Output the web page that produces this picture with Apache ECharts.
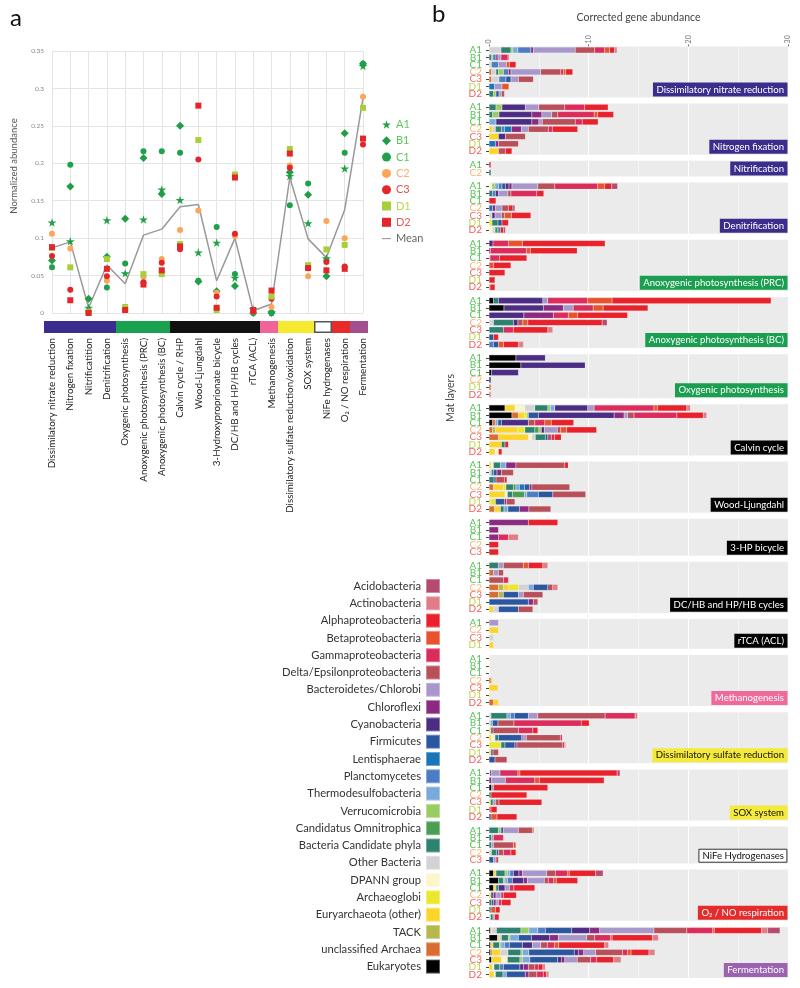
<!DOCTYPE html>
<html><head><meta charset="utf-8">
<script src="https://cdn.jsdelivr.net/npm/echarts@6/dist/echarts.min.js"></script>
<style>html,body{margin:0;padding:0;background:#fff}#c{width:800px;height:988px}</style>
</head><body><div id="c"></div><script>
// ---------- Panel a data ----------
const categories = ['Dissimilatory nitrate reduction','Nitrogen fixation','Nitrificatition','Denitrification','Oxygenic photosynthesis','Anoxygenic photosynthesis (PRC)','Anoxygenic photosynthesis (BC)','Calvin cycle / RHP','Wood-Ljungdahl','3-Hydroxyproprionate bicycle','DC/HB and HP/HB cycles','rTCA (ACL)','Methanogenesis','Dissimilatory sulfate reduction/oxidation','SOX system','NiFe hydrogenases','O\u2082 / NO respiration','Fermentation'];
const sampleA1 = [0.121,0.096,0.007,0.124,0.053,0.125,0.165,0.151,0.081,0.094,0.047,0.005,0.001,0.183,0.120,0.073,0.193,0.330];
const sampleB1 = [0.070,0.169,0.019,0.075,0.126,0.207,0.159,0.250,0.042,0.029,0.036,0.000,0.000,0.188,0.158,0.049,0.240,0.333];
const sampleC1 = [0.061,0.198,0.003,0.034,0.066,0.216,0.216,0.214,0.043,0.115,0.052,0.000,0.001,0.144,0.173,0.070,0.214,0.333];
const sampleC2 = [0.106,0.086,0.002,0.043,0.004,0.048,0.072,0.111,0.137,0.027,0.103,0.002,0.008,0.197,0.049,0.123,0.100,0.289];
const sampleC3 = [0.076,0.031,0.001,0.049,null,0.041,0.067,0.085,0.205,0.022,0.106,0.002,0.019,0.194,0.060,0.068,0.062,0.225];
const sampleD1 = [0.087,0.061,0.001,0.072,0.008,0.052,0.052,0.092,0.231,0.004,0.185,0.004,0.022,0.219,0.064,0.085,0.091,0.274];
const sampleD2 = [0.088,0.017,0.000,0.059,0.004,0.038,0.057,0.089,0.277,0.007,0.181,0.004,0.030,0.213,0.060,0.057,0.059,0.233];
const meanValues = [0.087,0.095,0.007,0.064,0.039,0.104,0.112,0.142,0.145,0.043,0.100,0.003,0.012,0.181,0.099,0.074,0.138,0.287];
const bandColors = ['#3a2d8f','#3a2d8f','#3a2d8f','#3a2d8f','#1aa150','#1aa150','#1aa150','#111111','#111111','#111111','#111111','#111111','#f0649a','#f5ea30','#f5ea30','#ffffff','#e82a2a','#a34f8f'];

// ---------- Panel b data ----------
const taxa = ['Acidobacteria','Actinobacteria','Alphaproteobacteria','Betaproteobacteria','Gammaproteobacteria','Delta/Epsilonproteobacteria','Bacteroidetes/Chlorobi','Chloroflexi','Cyanobacteria','Firmicutes','Lentisphaerae','Planctomycetes','Spirochaeta','Thermodesulfobacteria','Verrucomicrobia','Candidatus Omnitrophica','Bacteria Candidate phyla','Other Bacteria','DPANN group','Archaeoglobi','Euryarchaeota (other)','TACK','unclassified Archaea','Eukaryotes'];
const taxaColors = ['#b64b72','#e07d86','#e8212a','#e8532d','#dc2c5c','#b84f59','#a897cb','#8b2a80','#4c2d85','#2b56a0','#1875b8','#4b7cc4','#7090c9','#7aa9dc','#99cc62','#4a9e52','#2e806f','#d3d3d6','#faf6c9','#ebe72a','#fcd42a','#b7b84b','#d96d31','#000000'];

// rows: [layer, [[taxonIndex, abundance], ...]]
const fNitrateRed = [
 ['A1',[[17,1.2],[16,1.0],[14,0.2],[13,0.5],[11,1.3],[7,0.25],[6,4.2],[5,1.95],[4,1.0],[3,0.5],[2,0.5],[1,0.25]]],
 ['B1',[[16,0.25],[14,0.15],[11,0.3],[7,0.2],[6,0.3],[4,0.7],[2,0.1]]],
 ['C1',[[17,0.25],[11,0.7],[6,0.8],[3,0.3],[2,0.65]]],
 ['C2',[[22,0.25],[17,0.45],[16,0.25],[14,0.5],[11,0.5],[7,0.25],[6,3.0],[5,2.0],[4,0.25],[3,0.25],[2,0.7]]],
 ['C3',[[22,0.25],[17,0.75],[11,0.7],[9,0.5],[6,0.75],[5,1.5]]],
 ['D1',[[10,0.55],[6,0.75],[3,0.7]]],
 ['D2',[[16,0.45],[14,0.25],[9,0.3],[6,0.25],[5,0.3]]]];
const fNitrogenFix = [
 ['A1',[[16,0.7],[14,0.6],[8,2.35],[6,1.35],[5,2.6],[4,2.0],[2,2.35]]],
 ['B1',[[16,0.35],[14,0.65],[8,3.3],[7,1.0],[6,1.0],[5,0.6],[4,3.65],[3,0.35],[2,1.6]]],
 ['C1',[[13,0.7],[8,3.6],[7,0.7],[6,0.35],[5,3.3],[4,0.7],[2,1.6]]],
 ['C2',[[20,0.35],[17,0.3],[16,0.6],[11,0.3],[10,0.7],[7,1.0],[6,0.7],[5,2.0],[4,0.4],[2,2.55]]],
 ['C3',[[20,0.95],[8,0.7],[5,2.0]]],
 ['D1',[[10,0.65],[7,0.3],[5,2.0]]],
 ['D2',[[20,0.95],[5,0.7],[2,0.65]]]];
const fNitrification = [
 ['A1',[[4,0.2]]],
 ['C2',[[16,0.2]]]];
const fDenitrification = [
 ['A1',[[18,0.3],[14,0.3],[13,0.35],[11,0.35],[9,0.35],[8,0.35],[7,0.3],[6,2.6],[5,1.7],[4,4.3],[3,0.7],[2,0.7],[0,0.6]]],
 ['B1',[[16,0.35],[11,0.3],[8,0.3],[6,0.95],[5,0.3],[4,2.6],[2,0.7]]],
 ['C1',[[2,0.7]]],
 ['C2',[[10,0.35],[7,0.3],[6,0.65],[5,0.65],[2,0.45],[0,0.2]]],
 ['C3',[[17,0.3],[8,0.3],[6,0.65],[5,0.3],[3,0.7],[2,1.95]]],
 ['D1',[[19,0.3],[16,0.6],[9,0.4],[2,0.65]]],
 ['D2',[[18,0.35],[17,0.25],[15,0.3],[11,0.25],[2,0.3],[0,0.2]]]];
const fAnoxPRC = [
 ['A1',[[8,0.4],[4,1.55],[3,1.4],[2,8.3]]],
 ['B1',[[7,0.15],[4,3.6],[3,0.4],[2,4.7]]],
 ['C1',[[6,0.1],[4,0.95],[2,2.75]]],
 ['C2',[[3,0.45],[2,1.75]]],
 ['C3',[[2,1.6]]],
 ['D1',[[2,0.6]]],
 ['D2',[[3,0.1],[2,0.5]]]];
const fAnoxBC = [
 ['A1',[[23,0.45],[16,0.5],[8,4.45],[6,0.5],[4,4.0],[3,2.45],[2,15.95]]],
 ['B1',[[23,1.5],[8,3.95],[7,2.0],[6,1.0],[4,2.0],[3,1.0],[2,4.5]]],
 ['C1',[[8,3.5],[7,2.95],[4,1.5],[3,0.95],[2,5.0]]],
 ['C2',[[17,0.45],[16,2.0],[8,0.45],[5,0.5],[3,0.5],[2,7.45],[0,0.5]]],
 ['C3',[[16,1.45],[4,1.0],[2,3.45],[1,0.5]]],
 ['D1',[[9,0.45],[2,0.5]]],
 ['D2',[[11,0.45],[9,0.5],[3,0.5],[2,1.5],[1,0.5]]]];
const fOxygenic = [
 ['A1',[[23,2.7],[8,2.95]]],
 ['B1',[[23,3.2],[8,6.45]]],
 ['C1',[[23,0.25],[8,2.7]]],
 ['C2',[[8,0.2]]],
 ['D1',[[22,0.2]]],
 ['D2',[[1,0.2]]]];
const fCalvin = [
 ['A1',[[23,1.6],[20,1.0],[18,1.0],[17,1.0],[16,1.3],[14,0.25],[13,0.45],[8,3.3],[6,0.65],[4,6.0],[3,0.35],[2,2.95],[1,0.35]]],
 ['B1',[[23,2.3],[22,0.65],[20,0.6],[19,0.25],[14,0.15],[9,1.0],[8,7.6],[7,1.0],[6,0.35],[5,0.65],[4,4.3],[2,2.65],[1,0.35]]],
 ['C1',[[23,0.35],[22,0.3],[13,0.25],[9,0.35],[8,2.7],[5,0.65],[4,1.0],[3,0.65],[2,2.25]]],
 ['C2',[[22,0.35],[21,0.3],[20,2.25],[19,0.7],[16,1.0],[15,0.4],[14,0.25],[8,0.3],[6,1.3],[5,0.35],[3,0.6],[2,3.0]]],
 ['C3',[[22,0.95],[20,3.0],[18,0.35],[17,0.35],[16,1.0],[9,0.25],[5,0.35],[4,0.35],[2,0.65]]],
 ['D1',[[20,1.25],[16,0.35],[2,0.35]]],
 ['D2',[[20,0.6],[18,0.35],[2,0.35]]]];
const fWoodLj = [
 ['A1',[[20,0.2],[18,0.25],[16,0.7],[13,0.55],[7,1.0],[5,4.9],[2,0.35]]],
 ['B1',[[17,0.25],[16,0.2],[9,0.35],[7,0.45],[5,1.2]]],
 ['C1',[[16,0.5],[9,0.2],[5,0.85],[2,0.25]]],
 ['C2',[[22,0.45],[20,1.0],[19,0.25],[16,0.75],[15,0.25],[13,0.35],[10,0.5],[9,0.5],[7,0.25],[5,3.8]]],
 ['C3',[[20,1.6],[18,0.25],[16,0.5],[15,1.2],[13,0.25],[11,1.15],[9,1.45],[5,3.3]]],
 ['D1',[[20,0.15],[19,0.5],[9,0.9],[7,0.2],[5,0.85]]],
 ['D2',[[22,0.55],[20,0.6],[16,0.35],[13,0.4],[9,1.15],[7,0.95],[5,2.2]]]];
const f3HP = [
 ['A1',[[7,3.95],[2,2.95]]],
 ['B1',[[7,0.95]]],
 ['C1',[[7,0.95],[4,1.0],[1,1.0]]],
 ['C2',[[2,0.95]]],
 ['C3',[[2,0.95]]]];
const fDCHB = [
 ['A1',[[16,0.95],[6,0.5],[5,2.0],[3,0.5],[2,1.45],[1,0.5]]],
 ['B1',[[22,0.45],[6,0.5],[5,0.5]]],
 ['C1',[[5,1.45],[4,0.5]]],
 ['C2',[[22,0.95],[21,0.5],[20,0.5],[19,1.0],[17,1.0],[13,0.5],[9,1.45],[5,0.5],[1,0.5]]],
 ['C3',[[22,0.95],[21,0.5],[9,1.5],[6,0.5],[5,1.95]]],
 ['D1',[[9,3.95],[7,0.5],[5,0.45]]],
 ['D2',[[20,0.45],[17,0.5],[9,2.0],[5,1.45]]]];
const fRTCA = [
 ['A1',[[6,0.95]]],
 ['C2',[[20,0.95]]],
 ['C3',[[17,0.45]]],
 ['D1',[[20,0.45]]]];
const fMethano = [
 ['A1',[[20,0.07]]],
 ['B1',[[20,0.07]]],
 ['C1',[[20,0.05]]],
 ['C2',[[22,0.2],[20,0.15]]],
 ['C3',[[20,0.9]]],
 ['D1',[[20,0.1]]],
 ['D2',[[22,0.45],[20,0.5]]]];
const fSulfate = [
 ['A1',[[17,0.2],[16,1.6],[13,0.35],[11,0.4],[9,1.4],[6,0.95],[5,6.75],[4,3.0],[1,0.25]]],
 ['B1',[[17,0.15],[13,0.2],[9,0.55],[5,1.6],[4,6.75],[2,0.8]]],
 ['C1',[[20,0.2],[9,0.2],[5,2.55],[4,1.45],[2,0.5]]],
 ['C2',[[20,0.2],[18,0.4],[16,0.35],[9,2.3],[7,0.15],[6,0.35],[5,3.4],[4,0.2]]],
 ['C3',[[19,1.2],[16,0.4],[9,1.0],[7,0.2],[5,4.55],[4,0.2],[1,0.15]]],
 ['D1',[[20,0.2],[9,0.2],[5,0.55]]],
 ['D2',[[9,0.6],[5,1.2]]]];
const fSOX = [
 ['A1',[[17,0.1],[8,0.15],[6,0.85],[4,1.8],[3,0.2],[2,9.75],[0,0.3]]],
 ['B1',[[7,0.25],[6,1.4],[4,2.95],[3,0.45],[2,6.5]]],
 ['C1',[[23,0.25],[6,0.2],[2,5.45]]],
 ['C2',[[16,0.2],[2,3.6]]],
 ['C3',[[19,0.15],[16,0.25],[6,0.25],[5,0.35],[2,4.3]]],
 ['D1',[[3,0.2],[2,0.6]]],
 ['D2',[[9,0.2],[3,0.6],[2,2.0]]]];
const fNiFe = [
 ['A1',[[16,0.95],[14,0.25],[9,0.25],[6,1.5],[5,1.4],[3,0.15]]],
 ['B1',[[16,0.25],[6,0.2],[4,1.0]]],
 ['C1',[[16,0.25],[6,0.2],[5,2.0],[3,0.25]]],
 ['C2',[[17,0.25],[16,0.5],[9,0.2],[5,0.5],[4,0.75],[2,0.5]]],
 ['C3',[[9,0.45],[6,0.25],[5,0.25]]]];
const fO2NO = [
 ['A1',[[23,0.45],[20,0.25],[16,0.9],[14,0.25],[13,0.25],[11,0.35],[8,0.55],[7,0.35],[6,2.45],[5,0.85],[4,1.25],[3,0.15],[2,2.65],[0,0.75]]],
 ['B1',[[23,0.95],[16,0.5],[14,0.15],[13,0.25],[11,0.5],[8,1.1],[7,0.4],[6,1.7],[5,0.4],[4,0.55],[3,0.25],[2,2.15]]],
 ['C1',[[23,0.45],[20,0.25],[16,0.25],[8,0.65],[6,0.45],[4,0.45],[2,2.1]]],
 ['C2',[[20,0.2],[9,0.25],[7,0.25],[6,0.5],[4,0.25],[2,1.3]]],
 ['C3',[[16,0.25],[9,0.2],[7,0.25],[6,0.25],[4,0.3],[2,0.95]]],
 ['D1',[[16,0.2],[3,0.45],[2,0.45]]],
 ['D2',[[17,0.15],[16,0.25],[6,0.15],[2,0.45]]]];
const fFerment = [
 ['A1',[[23,0.15],[20,0.1],[17,0.5],[16,2.45],[14,0.8],[13,0.9],[11,0.75],[9,2.65],[8,1.8],[7,1.0],[6,5.45],[5,3.3],[4,2.6],[3,0.15],[2,4.75],[1,0.6],[0,1.25]]],
 ['B1',[[23,0.85],[20,0.15],[17,0.25],[16,0.7],[14,0.15],[13,0.85],[9,1.3],[8,1.85],[7,0.85],[6,2.85],[5,0.8],[4,1.6],[3,0.15],[2,4.05],[1,0.6]]],
 ['C1',[[23,0.15],[20,0.25],[16,0.65],[14,0.15],[13,0.35],[11,0.5],[9,1.3],[8,1.0],[6,0.85],[5,0.65],[4,0.7],[3,0.45],[2,4.6],[1,0.4]]],
 ['C2',[[23,0.15],[22,0.15],[20,0.85],[17,0.75],[16,1.3],[14,0.15],[13,0.65],[9,4.55],[8,0.4],[7,0.55],[6,1.2],[5,2.7],[4,0.5],[3,0.35],[2,1.8],[1,0.6]]],
 ['C3',[[23,0.25],[20,1.0],[18,0.6],[16,1.25],[14,0.25],[13,0.75],[9,2.8],[8,0.35],[7,0.35],[6,1.25],[5,1.35],[4,0.6],[2,1.7],[1,0.75]]],
 ['D1',[[20,0.35],[18,0.15],[16,0.55],[11,0.4],[9,1.65],[8,0.35],[7,0.5],[5,0.65],[4,0.35],[2,0.45],[1,0.25]]],
 ['D2',[[20,0.5],[18,0.15],[16,0.75],[13,0.35],[9,1.9],[7,0.35],[5,0.8],[4,0.65],[2,0.3],[1,0.25]]]];

const facetNames = ['Dissimilatory nitrate reduction','Nitrogen fixation','Nitrification','Denitrification','Anoxygenic photosynthesis (PRC)','Anoxygenic photosynthesis (BC)','Oxygenic photosynthesis','Calvin cycle','Wood-Ljungdahl','3-HP bicycle','DC/HB and HP/HB cycles','rTCA (ACL)','Methanogenesis','Dissimilatory sulfate reduction','SOX system','NiFe Hydrogenases','O\u2082 / NO respiration','Fermentation'];
const facetRows = [fNitrateRed,fNitrogenFix,fNitrification,fDenitrification,fAnoxPRC,fAnoxBC,fOxygenic,fCalvin,fWoodLj,f3HP,fDCHB,fRTCA,fMethano,fSulfate,fSOX,fNiFe,fO2NO,fFerment];
const stripFill = ['#3b2d8c','#3b2d8c','#3b2d8c','#3b2d8c','#1a9e50','#1a9e50','#1a9e50','#000','#000','#000','#000','#000','#ef6a9b','#f3ea3a','#f3ea3a','#fff','#e52b2b','#9b62b0'];
const stripText = ['#fff','#fff','#fff','#fff','#fff','#fff','#fff','#fff','#fff','#fff','#fff','#fff','#fff','#111','#111','#111','#fff','#fff'];
const layerColor = {A1:'#5dc15d',B1:'#5dc15d',C1:'#5dc15d',C2:'#f9b47a',C3:'#ef6e6e',D1:'#bcd75a',D2:'#ef6060'};

const FONT = 'Lato';
const grids = [], xAxes = [], yAxes = [], series = [], titles = [];

// ---------- Panel a ----------
grids.push({left:52, right:437, top:51, height:262});
xAxes.push({gridIndex:0, type:'category', data:categories, boundaryGap:false,
  axisLine:{show:false}, axisTick:{show:false},
  axisLabel:{interval:0, rotate:90, margin:25, fontSize:9.8, color:'#222', fontFamily:FONT},
  splitLine:{show:true, lineStyle:{color:'#e4e4e4', width:1}}});
yAxes.push({gridIndex:0, type:'value', min:0, max:0.35, interval:0.05,
  axisLine:{show:false}, axisTick:{show:false},
  axisLabel:{fontSize:6.5, color:'#888', margin:8, fontFamily:FONT},
  splitLine:{lineStyle:{color:'#e4e4e4', width:1}}});
grids.push({left:44, right:432, top:321, height:12});
xAxes.push({gridIndex:1, type:'category', data:categories, show:false});
yAxes.push({gridIndex:1, type:'value', min:0, max:1, show:false});
series.push({type:'bar', xAxisIndex:1, yAxisIndex:1, barWidth:'100%', barCategoryGap:0, silent:true,
  data: categories.map((c,i)=>({value:1, itemStyle:{color:bandColors[i], borderColor: bandColors[i]==='#ffffff'?'#555':bandColors[i], borderWidth: bandColors[i]==='#ffffff'?1.5:0}}))});

const STAR = 'path://M50,0 L61,35 L98,35 L68,57 L79,91 L50,70 L21,91 L32,57 L2,35 L39,35 Z';
const sampleDefs = [
  ['A1', sampleA1, STAR, 9, '#22a046', '#5cc95c'],
  ['B1', sampleB1, 'diamond', 8, '#1f9e45', '#5cc95c'],
  ['C1', sampleC1, 'circle', 6, '#1fa04a', '#5cc95c'],
  ['C2', sampleC2, 'circle', 6, '#fba55a', '#f9b070'],
  ['C3', sampleC3, 'circle', 6, '#e3262b', '#e55050'],
  ['D1', sampleD1, 'rect', 6, '#a9cf38', '#b9d84a'],
  ['D2', sampleD2, 'rect', 6, '#e3262b', '#e8585a']];
series.push({type:'line', name:'Mean', xAxisIndex:0, yAxisIndex:0, data:meanValues, symbol:'none',
  lineStyle:{color:'#999', width:1.5}, itemStyle:{color:'#999'}, z:1});
sampleDefs.forEach(d => series.push({type:'scatter', name:d[0], xAxisIndex:0, yAxisIndex:0, data:d[1],
  symbol:d[2], symbolSize:d[3], symbolKeepAspect:true, itemStyle:{color:d[4], opacity:1}, z:3}));

// ---------- Panel b ----------
const R = 7.1, GAP = 6.1;
let y = 46.4;
facetRows.forEach((rows, fi) => {
  const gi = grids.length;
  const n = rows.length, h = (n + 0.2) * R;
  grids.push({left:489, right:12, top:y, height:h, show:true, backgroundColor:'#ebebeb', borderWidth:0});
  xAxes.push({gridIndex:gi, type:'value', min:0, max:30, interval:10, position:'top',
    axisLine:{show:false}, axisTick:{show:fi===0, length:2, lineStyle:{color:'#777'}},
    axisLabel:{show:fi===0, rotate:-90, fontSize:7, color:'#777', margin:3, fontFamily:FONT},
    splitLine:{show:true, lineStyle:{color:'#fff', width:1.1}},
    minorTick:{show:false, splitNumber:2}, minorSplitLine:{show:true, lineStyle:{color:'#fff', width:0.5}},
    name: fi===0 ? 'Corrected gene abundance' : '', nameLocation:'middle', nameGap:23,
    nameTextStyle:{fontSize:10.5, color:'#444', fontFamily:FONT}});
  const labels = rows.map(r => r[0]);
  yAxes.push({gridIndex:gi, type:'category', inverse:true, data:labels,
    axisLine:{show:false}, axisTick:{show:true, alignWithLabel:true, length:3, lineStyle:{color:'#444'}},
    axisLabel:{interval:0, fontSize:10, margin:7, fontFamily:FONT, lineHeight:8,
      color:(v)=>layerColor[v] || '#444'},
    splitLine:{show:false}});
  for (let ti = taxa.length - 1; ti >= 0; ti--) {
    const data = rows.map(r => { const s = r[1].find(p => p[0] === ti); return s ? s[1] : null; });
    if (data.every(v => v === null)) continue;
    series.push({type:'bar', name:taxa[ti], xAxisIndex:gi, yAxisIndex:gi, stack:'f'+fi, barWidth:6,
      data, itemStyle:{color:taxaColors[ti], borderColor:'rgba(255,255,255,0.35)', borderWidth:0.4}});
  }
  titles.push({text:facetNames[fi], right:12.5, top: y + h - 14.8,
    backgroundColor: stripFill[fi], borderColor: stripFill[fi]==='#fff' ? '#333' : stripFill[fi], borderWidth: stripFill[fi]==='#fff' ? 1 : 0,
    padding:[2,3.5,2,3.5],
    textStyle:{color:stripText[fi], fontSize:9.6, fontWeight:'normal', fontFamily:FONT, lineHeight:9.5}});
  y += h + GAP;
});

const chart = echarts.init(document.getElementById('c'), null, {renderer:'canvas'});
chart.setOption({
  animation:false,
  backgroundColor:'#fff',
  title: titles,
  grid: grids, xAxis: xAxes, yAxis: yAxes, series,
  legend: [
    {orient:'vertical', left:382, top:119, padding:0, itemWidth:9, itemHeight:9, itemGap:5.3,
     textStyle:{fontSize:11, fontFamily:FONT, lineHeight:9},
     data: sampleDefs.map(d => ({name:d[0], textStyle:{color:d[5]}})).concat([{name:'Mean', icon:'path://M0,0 L24,0 L24,3 L0,3 Z', textStyle:{color:'#666'}}])},
    {orient:'vertical', align:'right', right:359, top:578, padding:0, height:409, itemWidth:14, itemHeight:14, itemGap:1.3, icon:'rect',
     textStyle:{fontSize:11.2, color:'#333', fontFamily:FONT}, data: taxa}
  ],
  graphic: [
    {type:'text', left:10, top:6, style:{text:'a', fontSize:24, fill:'#111', fontFamily:FONT}},
    {type:'text', left:432, top:2, style:{text:'b', fontSize:24, fill:'#111', fontFamily:FONT}},
    {type:'text', x:14, y:166, rotation:Math.PI/2, style:{text:'Normalized abundance', fontSize:9.5, fill:'#555', fontFamily:FONT, align:'center', verticalAlign:'middle'}},
    {type:'text', x:451, y:398, rotation:Math.PI/2, style:{text:'Mat layers', fontSize:10.5, fill:'#444', fontFamily:FONT, align:'center', verticalAlign:'middle'}}
  ]
});
</script></body></html>
